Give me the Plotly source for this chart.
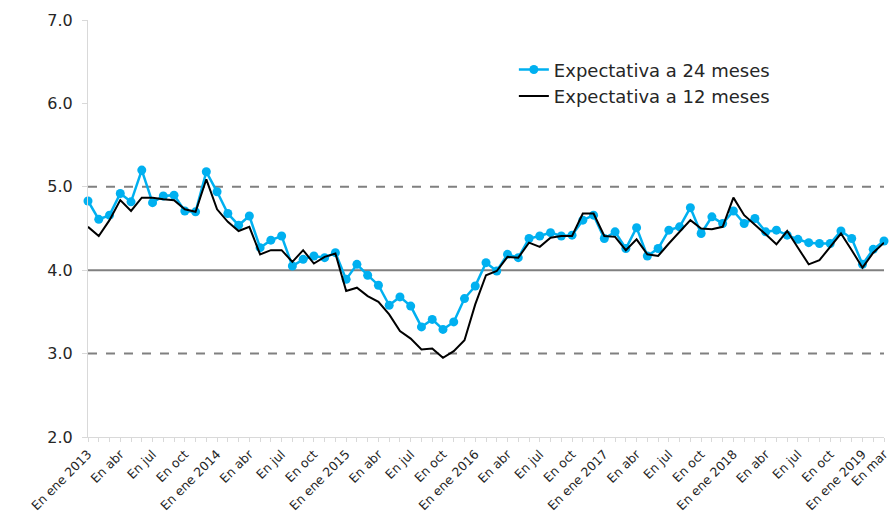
import plotly.graph_objects as go

# Monthly survey expectations, Jan 2013 - Mar 2019
exp_24m = [4.83, 4.61, 4.66, 4.92, 4.82, 5.20, 4.81, 4.89, 4.90, 4.71, 4.70, 5.18,
           4.94, 4.68, 4.54, 4.65, 4.27, 4.36, 4.41, 4.05, 4.13, 4.17, 4.15, 4.21,
           3.89, 4.07, 3.94, 3.82, 3.58, 3.68, 3.57, 3.32, 3.41, 3.29, 3.38, 3.66,
           3.81, 4.09, 3.99, 4.19, 4.15, 4.38, 4.41, 4.45, 4.41, 4.42, 4.60, 4.66,
           4.38, 4.46, 4.26, 4.51, 4.17, 4.26, 4.48, 4.52, 4.75, 4.44, 4.64, 4.56,
           4.71, 4.56, 4.62, 4.46, 4.48, 4.42, 4.37, 4.33, 4.32, 4.32, 4.47, 4.38,
           4.07, 4.25, 4.35]
exp_12m = [4.52, 4.41, 4.60, 4.84, 4.71, 4.87, 4.87, 4.85, 4.84, 4.73, 4.70, 5.09,
           4.73, 4.58, 4.47, 4.52, 4.19, 4.24, 4.24, 4.10, 4.24, 4.08, 4.16, 4.20,
           3.75, 3.79, 3.69, 3.62, 3.47, 3.27, 3.18, 3.05, 3.06, 2.95, 3.03, 3.16,
           3.59, 3.94, 3.99, 4.16, 4.15, 4.33, 4.28, 4.39, 4.41, 4.41, 4.68, 4.68,
           4.41, 4.40, 4.24, 4.37, 4.19, 4.17, 4.32, 4.46, 4.60, 4.50, 4.49, 4.52,
           4.87, 4.66, 4.55, 4.43, 4.31, 4.47, 4.27, 4.07, 4.12, 4.28, 4.44, 4.24,
           4.03, 4.21, 4.33]

tick_months = ["ene", "abr", "jul", "oct"]
years = [2013, 2014, 2015, 2016, 2017, 2018, 2019]

months_idx = list(range(len(exp_24m)))
tick_vals, tick_text = [], []
for k, yr in enumerate(years):
    for q, m in enumerate(tick_months):
        pos = k * 12 + q * 3
        if pos >= len(months_idx):
            break
        tick_vals.append(pos)
        tick_text.append(f"En {m} {yr}" if m == "ene" else f"En {m}")
tick_vals.append(len(months_idx) - 1)
tick_text.append("En mar")

FONT = "DejaVu Sans, Verdana, sans-serif"
TEXT = "#262626"

fig = go.Figure()
fig.add_trace(go.Scatter(
    x=months_idx, y=exp_24m, mode="lines+markers",
    name="Expectativa a 24 meses",
    line=dict(color="#00B0F0", width=2.5),
    marker=dict(color="#00B0F0", size=9),
    cliponaxis=False,
))
fig.add_trace(go.Scatter(
    x=months_idx, y=exp_12m, mode="lines",
    name="Expectativa a 12 meses",
    line=dict(color="#000000", width=2),
    cliponaxis=False,
))

# Reference levels: 3% and 5% dashed, 4% solid
for lvl, dash in [(3.0, "dash"), (5.0, "dash"), (4.0, "solid")]:
    fig.add_shape(type="line", xref="paper", x0=0, x1=1, yref="y", y0=lvl, y1=lvl,
                  line=dict(color="#808080", width=2, dash=dash), layer="below")

fig.update_layout(
    width=893, height=514,
    margin=dict(l=88, r=9, t=20, b=77),
    plot_bgcolor="white", paper_bgcolor="white",
    font=dict(family=FONT, color=TEXT),
    showlegend=True,
    legend=dict(x=0.535, y=0.925, xanchor="left", yanchor="top",
                font=dict(size=18, color=TEXT), bgcolor="rgba(0,0,0,0)",
                tracegroupgap=0, itemwidth=30),
    xaxis=dict(
        range=[0, len(months_idx) - 1],
        automargin=False,
        tickmode="array", tickvals=tick_vals, ticktext=tick_text,
        tickangle=-45, tickfont=dict(size=12.5, color=TEXT, family=FONT),
        showgrid=False, zeroline=False,
        showline=True, linecolor="#D9D9D9", linewidth=1,
        ticks="outside", ticklen=4, tickcolor="#D9D9D9",
        minor=dict(tickvals=months_idx, ticks="outside", ticklen=4,
                   tickcolor="#D9D9D9", showgrid=False),
    ),
    yaxis=dict(
        range=[2, 7], dtick=1, tickformat=".1f",
        automargin=False,
        tickfont=dict(size=16, color=TEXT, family=FONT),
        showgrid=False, zeroline=False,
        showline=True, linecolor="#D9D9D9", linewidth=1,
        ticks="outside", ticklen=5, tickcolor="#D9D9D9",
        ticklabelstandoff=6,
    ),
)

fig.write_html("out.html")
